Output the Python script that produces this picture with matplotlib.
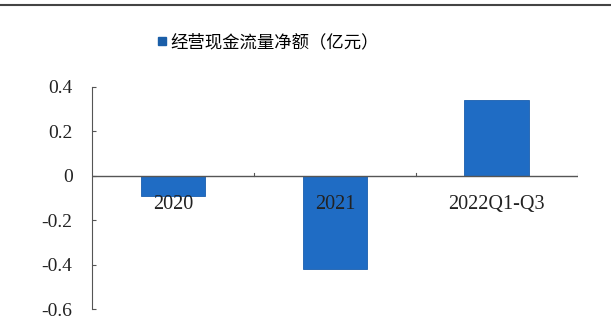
import matplotlib.pyplot as plt
from matplotlib.lines import Line2D

categories = ['2020', '2021', '2022Q1-Q3']
values = [-0.09, -0.42, 0.34]
legend_label = '经营现金流量净额（亿元）'
yticks = [0.4, 0.2, 0, -0.2, -0.4, -0.6]
ytick_labels = ['0.4', '0.2', '0', '-0.2', '-0.4', '-0.6']

fig = plt.figure(figsize=(6.11, 3.33), dpi=100)
ax = fig.add_axes([0.1506, 0.072, 0.795, 0.667])

x = range(len(categories))
bars = ax.bar(x, values, width=0.4, color='#1f6cc4', edgecolor='#1a5eae', linewidth=0.6,
              label=legend_label, zorder=2)

ax.set_xlim(-0.5, 2.5)
ax.set_ylim(-0.6, 0.4)
ax.set_yticks(yticks)
ax.set_yticklabels(ytick_labels, family='Liberation Serif', fontsize=14, color='#222222')
ax.tick_params(axis='y', direction='in', length=3, color='#555555', pad=14)

for s in ['top', 'right', 'bottom']:
    ax.spines[s].set_visible(False)
ax.spines['left'].set_color('#555555')
ax.set_xticks([])

# zero axis with category boundary ticks
ax.axhline(0, color='#555555', lw=1, zorder=3)
for b in [0.5, 1.5, 2.5]:
    ax.plot([b, b], [0, 0.012], color='#555555', lw=0.8, zorder=3)

for i, c in enumerate(categories):
    ax.text(i, -0.085, c, ha='center', va='top', family='Liberation Serif', fontsize=14.5,
            color='#222222', zorder=4)

handle = Line2D([], [], marker='s', linestyle='none', markersize=6, color='#1a5ea8')
fig.legend([handle], [legend_label], loc='center', bbox_to_anchor=(0.437, 0.873),
           frameon=False, handletextpad=0.1, handlelength=0.8,
           prop={'family': ['Noto Sans CJK SC', 'DejaVu Sans'], 'size': 12.5})

# header rule at very top
fig.add_artist(Line2D([0, 1], [0.985, 0.985], transform=fig.transFigure, color='#444444', lw=1.5))

fig.savefig('out.png', dpi=100)
